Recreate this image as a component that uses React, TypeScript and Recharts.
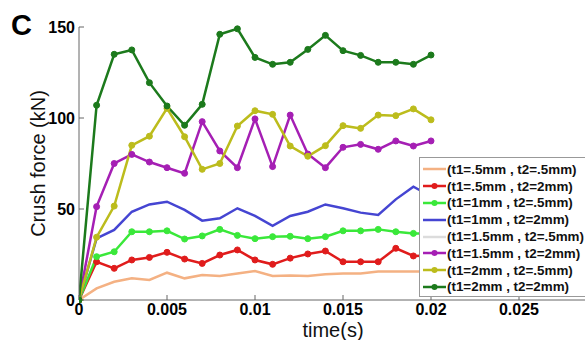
import React from 'react';
import { LineChart, Line, XAxis, YAxis, Legend } from 'recharts';

// Sample times (s)
const TIME = [0, 0.001, 0.002, 0.003, 0.004, 0.005, 0.006, 0.007, 0.008, 0.009, 0.01, 0.011, 0.012, 0.013, 0.014, 0.015, 0.016, 0.017, 0.018, 0.019, 0.02];

// Crush force (kN) for each wall-thickness pair
const F_05_05 = [0, 6.4, 10, 11.9, 11, 15, 11.9, 13.7, 13.2, 14.6, 15.9, 13.2, 13.5, 13.2, 14.1, 14.6, 14.6, 15.6, 15.6, 15.6, 15.6];
const F_05_2 = [0, 21, 17.4, 22, 23.4, 26.2, 22.5, 20.1, 24.7, 27.5, 22, 19.6, 23, 25.3, 26.9, 21, 21, 21, 28.4, 24.2, 24.5];
const F_1_05 = [0, 23.8, 26.5, 37.5, 37.5, 38, 33.5, 35.2, 38.8, 35.5, 33.7, 34.8, 35, 33.7, 34.8, 38, 38, 38.8, 37.5, 36.6, 36.5];
const F_1_2 = [0, 33.9, 38.5, 48.5, 52.5, 54, 49.5, 43.6, 44.9, 50.4, 46.2, 40.8, 46.2, 48.5, 52.5, 50.4, 48, 46.7, 55.3, 62.3, 57];
const F_15_2 = [0, 51.3, 75, 80, 75.8, 72.7, 69.6, 98, 81.9, 72.7, 99.5, 73.3, 101.6, 80.2, 72.7, 83.9, 85.5, 82.8, 87.4, 84.6, 87.4];
const F_2_05 = [0, 34.5, 51.6, 85, 90, 105.3, 89.7, 71.8, 75, 95.6, 104, 102, 84.6, 79, 84.8, 95.8, 94.3, 101.6, 101.3, 105, 99];
const F_2_2 = [0, 107, 135, 137.4, 119.4, 106.6, 96, 107.5, 146, 149, 133.3, 129.5, 130.6, 137.7, 145.4, 137, 134.4, 130.6, 130.6, 129.5, 134.6];

// Axis ticks; the 0.03 tick closes the frame and carries no label
const X_TICKS = [0, 0.005, 0.01, 0.015, 0.02, 0.025, 0.03];
const X_TICK_LABELS = ['0', '0.005', '0.01', '0.015', '0.02', '0.025', ''];
const Y_TICKS = [0, 50, 100, 150];

type Series = { key: string; name: string; color: string; values: number[] | null; marker: boolean };

const SERIES: Series[] = [
  { key: 'a', name: '(t1=.5mm , t2=.5mm)', color: '#f4b183', values: F_05_05, marker: false },
  { key: 'b', name: '(t1=.5mm , t2=2mm)', color: '#e01c1c', values: F_05_2, marker: true },
  { key: 'c', name: '(t1=1mm , t2=.5mm)', color: '#3ae83a', values: F_1_05, marker: true },
  { key: 'd', name: '(t1=1mm , t2=2mm)', color: '#4545d2', values: F_1_2, marker: false },
  { key: 'e', name: '(t1=1.5mm , t2=.5mm)', color: '#dcdcdc', values: null, marker: false },
  { key: 'f', name: '(t1=1.5mm , t2=2mm)', color: '#a51fb4', values: F_15_2, marker: true },
  { key: 'g', name: '(t1=2mm , t2=.5mm)', color: '#bcbc1c', values: F_2_05, marker: true },
  { key: 'h', name: '(t1=2mm , t2=2mm)', color: '#1c7a1c', values: F_2_2, marker: true },
];

const data = TIME.map((t, i) => {
  const row: Record<string, number> = { t };
  SERIES.forEach((s) => {
    if (s.values) row[s.key] = s.values[i];
  });
  return row;
});

const FONT = 'Arial, "Liberation Sans", Helvetica, sans-serif';
const AXIS_COLOR = '#666';

const LegendBox = () => (
  <div
    style={{
      background: '#fff',
      border: '1px solid #999',
      padding: '3px 0 1px 2px',
      width: 200,
      boxSizing: 'border-box',
      fontFamily: FONT,
    }}
  >
    {SERIES.map((s) => (
      <div key={s.key} style={{ display: 'flex', alignItems: 'center', height: 16.8 }}>
        <svg width={25} height={10} style={{ flex: 'none' }}>
          <line x1={1} y1={5} x2={24} y2={5} stroke={s.color} strokeWidth={2.5} />
          {s.marker && <circle cx={12.5} cy={5} r={3} fill={s.color} />}
        </svg>
        <span style={{ fontSize: 13.4, fontWeight: 'bold', color: '#111', whiteSpace: 'nowrap' }}>
          {s.name}
        </span>
      </div>
    ))}
  </div>
);

export default function App() {
  return (
    <div
      style={{
        position: 'fixed',
        left: 0,
        top: 0,
        width: 585,
        height: 340,
        overflow: 'hidden',
        background: '#fff',
      }}
    >
      <div
        style={{
          position: 'absolute',
          left: 11,
          top: 11,
          fontFamily: FONT,
          fontSize: 29,
          fontWeight: 'bold',
          lineHeight: 1,
          color: '#000',
        }}
      >
        C
      </div>
      <LineChart
        width={620}
        height={340}
        data={data}
        margin={{ top: 27, right: 13, left: 0, bottom: 0 }}
        style={{ position: 'absolute', left: 0, top: 0 }}
      >
        <XAxis
          xAxisId="top"
          orientation="top"
          dataKey="t"
          type="number"
          domain={[0, 0.03]}
          ticks={X_TICKS}
          height={0}
          tickSize={-5}
          tickFormatter={() => ''}
          stroke={AXIS_COLOR}
          allowDataOverflow
        />
        <XAxis
          dataKey="t"
          type="number"
          domain={[0, 0.03]}
          ticks={X_TICKS}
          height={40}
          tickSize={-5}
          tickMargin={9}
          tickFormatter={(v: number) => X_TICK_LABELS[X_TICKS.indexOf(v)] ?? ''}
          tick={{ fontSize: 16, fontWeight: 'bold', fill: '#000', fontFamily: FONT }}
          stroke={AXIS_COLOR}
          interval={0}
          allowDataOverflow
          label={{
            value: 'time(s)',
            position: 'insideBottom',
            offset: 3,
            dx: -10,
            style: { fontSize: 20, fill: '#111', fontFamily: FONT },
          }}
        />
        <YAxis
          domain={[0, 150]}
          ticks={Y_TICKS}
          width={79}
          tickSize={-5}
          tickMargin={9}
          tick={{ fontSize: 16, fontWeight: 'bold', fill: '#000', fontFamily: FONT }}
          stroke={AXIS_COLOR}
          interval={0}
          label={{
            value: 'Crush force (kN)',
            angle: -90,
            position: 'center',
            dx: -2,
            style: { fontSize: 20, fill: '#111', fontFamily: FONT, textAnchor: 'middle' },
          }}
        />
        {SERIES.filter((s) => s.values).map((s) => (
          <Line
            key={s.key}
            dataKey={s.key}
            name={s.name}
            type="linear"
            stroke={s.color}
            strokeWidth={2.5}
            dot={s.marker ? { r: 3, fill: s.color, stroke: s.color, strokeWidth: 1 } : false}
            activeDot={false}
            isAnimationActive={false}
          />
        ))}
        <Legend
          layout="vertical"
          align="center"
          verticalAlign="middle"
          content={() => <LegendBox />}
          wrapperStyle={{ position: 'absolute', left: 419, top: 157, width: 200, height: 'auto' }}
        />
      </LineChart>
    </div>
  );
}
